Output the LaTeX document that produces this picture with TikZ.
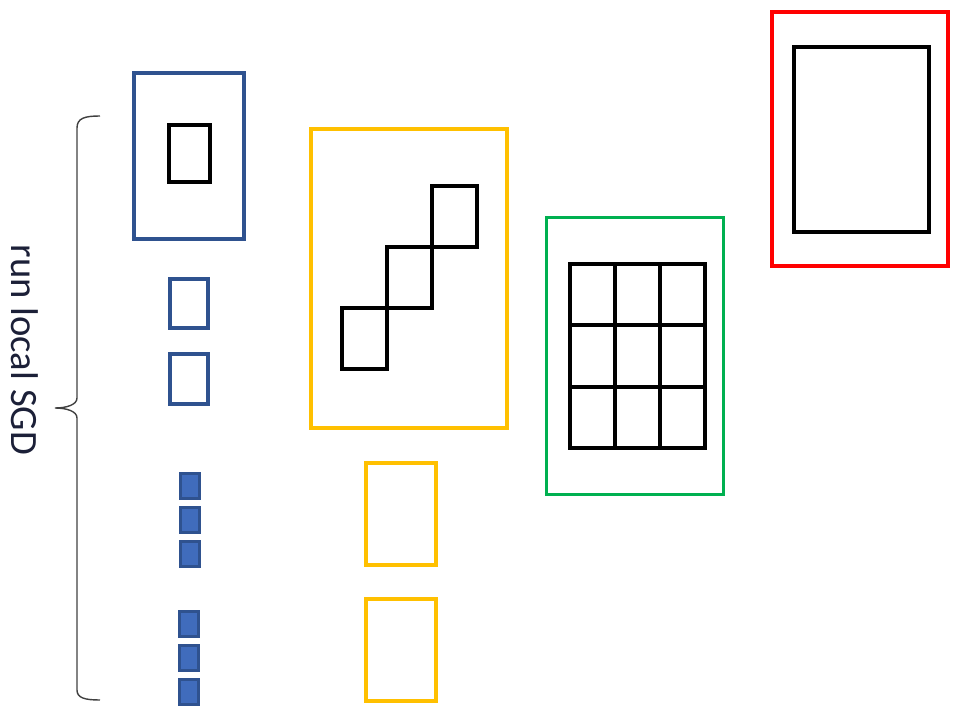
\documentclass[tikz,border=0pt]{standalone}
\usepackage{fontspec}
\setsansfont{Carlito}
\usepackage{tikz}
\definecolor{localblue}{RGB}{47,82,143}
\definecolor{localfill}{RGB}{64,108,188}
\definecolor{syncyellow}{RGB}{255,192,0}
\definecolor{syncgreen}{RGB}{0,176,80}
\definecolor{syncred}{RGB}{255,0,0}
\definecolor{labeltext}{RGB}{28,32,56}

\begin{document}
\begin{tikzpicture}[
    x=0.02cm, y=-0.02cm,
    box/.style={draw, rectangle, inner sep=0pt, line width=0.08cm},
    bluebox/.style={box, draw=localblue, line width=0.09cm},
    tinybox/.style={box, draw=localblue, fill=localfill, line width=0.06cm,
                    minimum width=0.38cm, minimum height=0.5cm},
    yellowbox/.style={box, draw=syncyellow},
    greenbox/.style={box, draw=syncgreen, line width=0.06cm},
    redbox/.style={box, draw=syncred},
    cell/.style={draw=black, line width=0.08cm},
]
\useasboundingbox (0,0) rectangle (961,720);

% local models (left column)
\node[bluebox, minimum width=2.2cm, minimum height=3.32cm] (B0) at (189,156) {};
\node[box, minimum width=0.82cm, minimum height=1.14cm] (B0in) at (189.5,153.5) {};
\node[bluebox, line width=0.07cm, minimum width=0.77cm, minimum height=0.98cm] (B1) at (189,303.5) {};
\node[bluebox, line width=0.07cm, minimum width=0.77cm, minimum height=1cm] (B2) at (189,379) {};
\node[tinybox] (T1) at (190,486) {};
\node[tinybox] (T2) at (190,520) {};
\node[tinybox] (T3) at (190,553.5) {};
\node[tinybox] (T4) at (189,624) {};
\node[tinybox] (T5) at (189,657.5) {};
\node[tinybox] (T6) at (189,691.5) {};

% second stage (staircase)
\node[yellowbox, minimum width=3.92cm, minimum height=5.98cm] (Y0) at (409,278.5) {};
\foreach \i in {0,1,2}
    \draw[cell] (342+45*\i,369-61*\i) rectangle ++(45,-61);
\node[yellowbox, minimum width=1.4cm, minimum height=2.04cm] (Y1) at (401,514) {};
\node[yellowbox, minimum width=1.4cm, minimum height=2.04cm] (Y2) at (401,650) {};

% third stage (full grid)
\node[greenbox, minimum width=3.54cm, minimum height=5.54cm] (G0) at (635,356) {};
\foreach \i in {0,1,2}
    \foreach \j in {0,1,2}
        \draw[cell] (570+45*\i,264+61.3*\j) rectangle ++(45,61.3);

% global model
\node[redbox, minimum width=3.52cm, minimum height=5.08cm] (R0) at (860,139) {};
\node[box, minimum width=2.7cm, minimum height=3.7cm] (R0in) at (861.5,139.5) {};

% brace and label
\coordinate (brtop) at (100,116);
\coordinate (brtip) at (55,408);
\coordinate (brbot) at (100,700);
\draw[black!75, line width=0.8pt]
    (brtop) .. controls (85,116) and (77,118) .. (77,128) -- (77,398)
    .. controls (77,405) and (66,408) .. (brtip)
    .. controls (66,408) and (77,411) .. (77,418) -- (77,690)
    .. controls (77,698) and (85,700) .. (brbot);
\node[rotate=-90, font=\sffamily\fontsize{22}{26}\selectfont, text=labeltext]
    (lbl) at (25,350) {run local SGD};

\end{tikzpicture}
\end{document}
